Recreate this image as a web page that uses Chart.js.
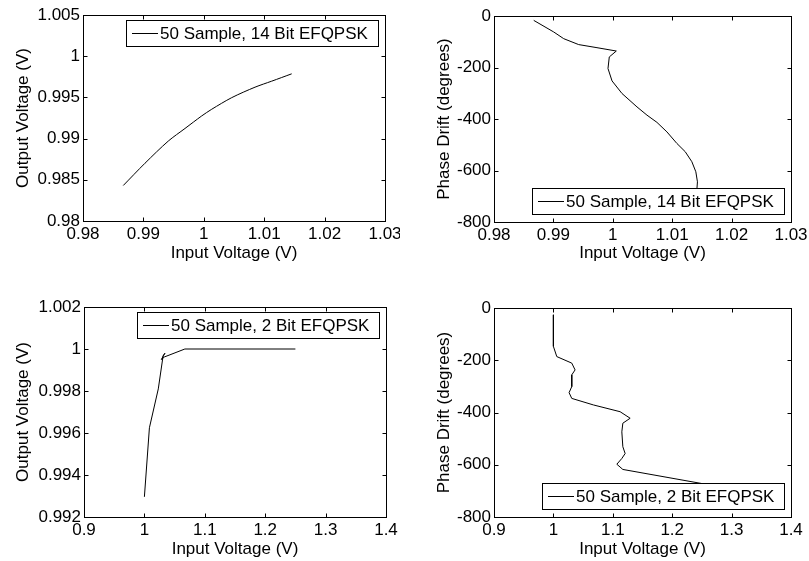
<!DOCTYPE html>
<html>
<head>
<meta charset="utf-8">
<script src="https://cdn.jsdelivr.net/npm/chart.js@4.4.1/dist/chart.umd.min.js"></script>
<style>
body { margin: 0; background: #fff; width: 809px; height: 561px; position: relative; overflow: hidden; }
canvas { position: absolute; }
</style>
</head>
<body>
<canvas id="c1" width="400" height="290" style="left:0px;top:0px"></canvas>
<canvas id="c2" width="399" height="290" style="left:410px;top:0px"></canvas>
<canvas id="c3" width="400" height="271" style="left:0px;top:290px"></canvas>
<canvas id="c4" width="399" height="271" style="left:410px;top:290px"></canvas>
<script>
// 14 bit EFQPSK, output voltage vs input voltage
var p1X = [0.98667, 0.99026, 0.99412, 0.99689, 0.99965, 1.00131, 1.00462, 1.00848, 1.01124, 1.01455];
var p1Y = [0.98431, 0.98701, 0.98970, 0.99123, 0.99275, 0.99356, 0.99497, 0.99624, 0.99697, 0.99786];
// 14 bit EFQPSK, phase drift vs input voltage
var p2X = [0.98669, 0.99005, 0.99173, 0.99425, 0.99734, 1.00059, 0.99941, 0.99919, 0.99987, 1.00155,
           1.00407, 1.00575, 1.00743, 1.00911, 1.01079, 1.01219, 1.01331, 1.01398, 1.01425, 1.01415];
var p2Y = [-17, -62, -88, -111, -123, -136, -159, -204, -252, -301,
           -353, -385, -413, -450, -495, -527, -566, -605, -644, -675];
// 2 bit EFQPSK, output voltage vs input voltage
var p3X = [1.0, 1.0083, 1.023, 1.031, 1.034, 1.028, 1.033, 1.067, 1.25];
var p3Y = [0.99296, 0.99625, 0.99810, 0.99968, 0.99980, 0.99950, 0.99962, 1.0, 1.0];
// 2 bit EFQPSK, phase drift vs input voltage
var p4X = [1.0, 1.0, 1.0057, 1.0309, 1.0365, 1.0309, 1.0309, 1.0264, 1.0309, 1.0673,
           1.1123, 1.1292, 1.1169, 1.1152, 1.1169, 1.1208, 1.1152, 1.1068, 1.1169, 1.25];
var p4Y = [-26, -147, -186, -211, -237, -256, -301, -324, -346, -371,
           -397, -422, -441, -474, -531, -557, -576, -598, -618, -672];

var labels = ['50 Sample, 14 Bit EFQPSK', '50 Sample, 14 Bit EFQPSK', '50 Sample, 2 Bit EFQPSK', '50 Sample, 2 Bit EFQPSK'];

var p1XTicks = ['0.98', '0.99', '1', '1.01', '1.02', '1.03'];
var p1YTicks = ['0.98', '0.985', '0.99', '0.995', '1', '1.005'];
var p2XTicks = ['0.98', '0.99', '1', '1.01', '1.02', '1.03'];
var p2YTicks = ['-800', '-600', '-400', '-200', '0'];
var p3XTicks = ['0.9', '1', '1.1', '1.2', '1.3', '1.4'];
var p3YTicks = ['0.992', '0.994', '0.996', '0.998', '1', '1.002'];
var p4XTicks = ['0.9', '1', '1.1', '1.2', '1.3', '1.4'];
var p4YTicks = ['-800', '-600', '-400', '-200', '0'];

var FONT = '"Liberation Sans", Arial, Helvetica, sans-serif';
var FSIZE = 17;

// box round the plot with inward ticks on all four sides
var boxAxes = {
    id: 'boxAxes',
    afterDatasetsDraw: function (chart) {
        var ctx = chart.ctx, a = chart.chartArea, sx = chart.scales.x, sy = chart.scales.y;
        var L = Math.round(a.left) + 0.5, R = Math.round(a.right) + 0.5;
        var T = Math.round(a.top) + 0.5, B = Math.round(a.bottom) + 0.5;
        ctx.save();
        ctx.strokeStyle = '#000';
        ctx.lineWidth = 1;
        ctx.beginPath();
        sx.ticks.forEach(function (t) {
            var px = Math.round(sx.getPixelForValue(t.value)) + 0.5;
            ctx.moveTo(px, T); ctx.lineTo(px, T + 4);
            ctx.moveTo(px, B); ctx.lineTo(px, B - 4);
        });
        sy.ticks.forEach(function (t) {
            var py = Math.round(sy.getPixelForValue(t.value)) + 0.5;
            ctx.moveTo(L, py); ctx.lineTo(L + 4, py);
            ctx.moveTo(R, py); ctx.lineTo(R - 4, py);
        });
        ctx.stroke();
        ctx.strokeRect(L, T, R - L, B - T);
        ctx.restore();
    }
};

// matlab style legend inside the plot
var boxLegend = {
    id: 'boxLegend',
    afterDraw: function (chart, args, opts) {
        var ctx = chart.ctx, a = chart.chartArea;
        var label = chart.data.datasets[0].label;
        ctx.save();
        ctx.font = FSIZE + 'px ' + FONT;
        var tw = ctx.measureText(label).width;
        var w = Math.round(tw + 44), h = 26;
        var right = Math.round(a.right) - 7;
        var left = right - w;
        var top = opts.at === 'top' ? Math.round(a.top) + 5 : Math.round(a.bottom) - 8 - h;
        ctx.fillStyle = '#fff';
        ctx.fillRect(left, top, w, h);
        ctx.strokeStyle = '#000';
        ctx.lineWidth = 1;
        ctx.strokeRect(left + 0.5, top + 0.5, w, h);
        ctx.beginPath();
        ctx.moveTo(left + 6, top + h / 2 + 0.5);
        ctx.lineTo(left + 32, top + h / 2 + 0.5);
        ctx.stroke();
        ctx.fillStyle = '#000';
        ctx.textBaseline = 'middle';
        ctx.fillText(label, left + 34, top + h / 2 + 1);
        ctx.restore();
    }
};

function makeChart(id, xs, ys, label, xTicks, yTicks, yTitle, lay) {
    var xv = xTicks.map(parseFloat), yv = yTicks.map(parseFloat);
    var pts = xs.map(function (x, i) { return { x: x, y: ys[i] }; });
    return new Chart(document.getElementById(id), {
        type: 'line',
        data: {
            datasets: [{
                label: label,
                data: pts,
                borderColor: '#000',
                borderWidth: 1,
                pointRadius: 0,
                tension: lay.tension || 0,
                fill: false
            }]
        },
        options: {
            responsive: false,
            animation: false,
            events: [],
            layout: { padding: { top: lay.top, right: lay.right, left: 0, bottom: 0 } },
            plugins: {
                legend: { display: false },
                tooltip: { enabled: false },
                boxLegend: { at: lay.legend }
            },
            scales: {
                x: {
                    type: 'linear',
                    min: xv[0],
                    max: xv[xv.length - 1],
                    afterBuildTicks: function (s) { s.ticks = xv.map(function (v) { return { value: v }; }); },
                    afterFit: function (s) { s.height = lay.xH; s.paddingLeft = 0; s.paddingRight = 0; },
                    grid: { display: false, drawTicks: false },
                    border: { display: false },
                    ticks: {
                        autoSkip: false,
                        maxRotation: 0,
                        padding: 3,
                        color: '#000',
                        font: { family: FONT, size: FSIZE },
                        callback: function (v, i) { return xTicks[i]; }
                    },
                    title: {
                        display: true,
                        text: 'Input Voltage (V)',
                        color: '#000',
                        font: { family: FONT, size: FSIZE },
                        padding: { top: 0, bottom: lay.xTitle }
                    }
                },
                y: {
                    type: 'linear',
                    min: yv[0],
                    max: yv[yv.length - 1],
                    afterBuildTicks: function (s) { s.ticks = yv.map(function (v) { return { value: v }; }); },
                    afterFit: function (s) { s.width = lay.yW; s.paddingTop = 0; s.paddingBottom = 0; },
                    grid: { display: false, drawTicks: false },
                    border: { display: false },
                    ticks: {
                        autoSkip: false,
                        padding: 3,
                        color: '#000',
                        font: { family: FONT, size: FSIZE },
                        callback: function (v, i) { return yTicks[i]; }
                    },
                    title: {
                        display: true,
                        text: yTitle,
                        color: '#000',
                        font: { family: FONT, size: FSIZE },
                        padding: { top: lay.yTitle, bottom: 0 }
                    }
                }
            }
        },
        plugins: [boxAxes, boxLegend]
    });
}

makeChart('c1', p1X, p1Y, labels[0], p1XTicks, p1YTicks, 'Output Voltage (V)',
    { top: 15, right: 15, yW: 83, xH: 69, xTitle: 26, yTitle: 13, legend: 'top', tension: 0.3 });
makeChart('c2', p2X, p2Y, labels[1], p2XTicks, p2YTicks, 'Phase Drift (degrees)',
    { top: 16, right: 18, yW: 84, xH: 68, xTitle: 26, yTitle: 24, legend: 'bottom' });
makeChart('c3', p3X, p3Y, labels[2], p3XTicks, p3YTicks, 'Output Voltage (V)',
    { top: 17, right: 14, yW: 84, xH: 44, xTitle: 1, yTitle: 13, legend: 'top' });
makeChart('c4', p4X, p4Y, labels[3], p4XTicks, p4YTicks, 'Phase Drift (degrees)',
    { top: 18, right: 18, yW: 84, xH: 44, xTitle: 1, yTitle: 24, legend: 'bottom' });
</script>
</body>
</html>
